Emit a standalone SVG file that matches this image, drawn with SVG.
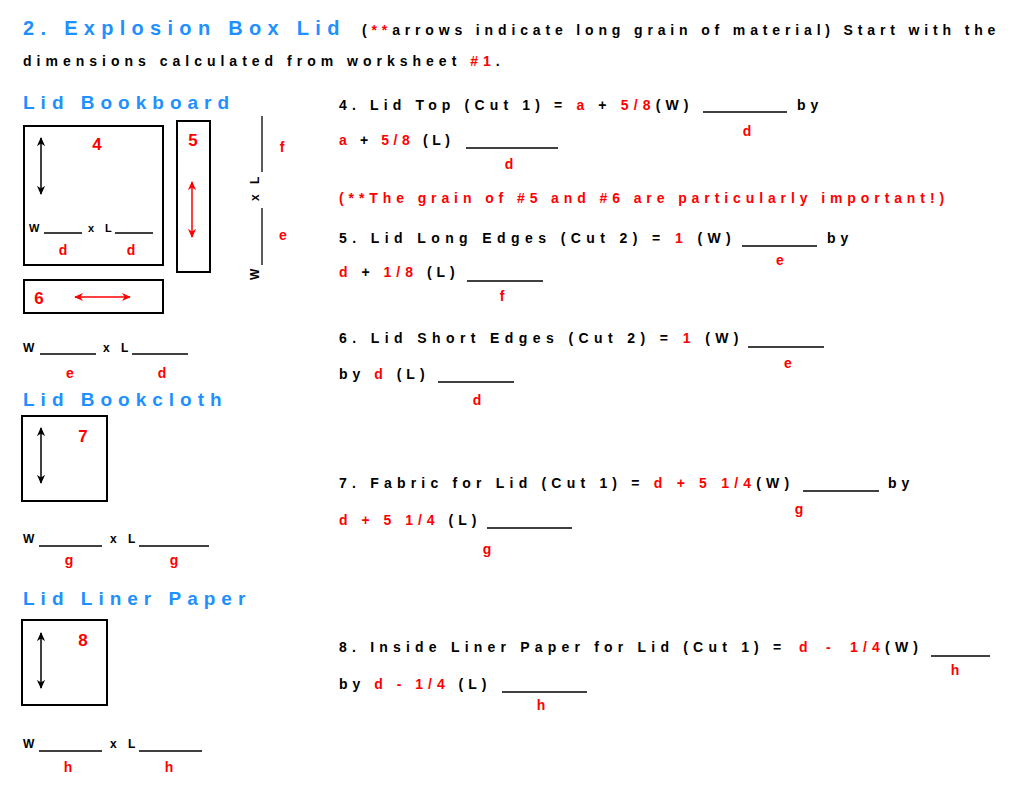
<svg xmlns="http://www.w3.org/2000/svg" width="1024" height="791" viewBox="0 0 1024 791">
<style>
text{font-family:"Liberation Sans",Arial,sans-serif;font-weight:bold;}
.t{font-size:14px;letter-spacing:5px;fill:#000;}
.r{fill:#ff0000;}
.h{font-size:19px;letter-spacing:6px;fill:#1e90ff;}
.lb{font-size:14px;fill:#ff0000;text-anchor:middle;}
.num{font-size:17px;fill:#ff0000;text-anchor:middle;}
.s{font-size:12px;fill:#000;}
.s2{font-size:11px;fill:#000;}
.u{stroke:#000;stroke-width:1.3;}
.box{fill:none;stroke:#000;stroke-width:2;}
.ab{stroke:#000;stroke-width:1.5;fill:none;marker-start:url(#hb);marker-end:url(#hb);}
.ar{stroke:#ff0000;stroke-width:1.5;fill:none;marker-start:url(#hr);marker-end:url(#hr);}
</style>
<defs>
<marker id="hb" viewBox="0 0 10 10" refX="9" refY="5" markerWidth="9" markerHeight="9" markerUnits="userSpaceOnUse" orient="auto-start-reverse"><path d="M0,0.5 L10,5 L0,9.5 L3,5 Z" fill="#000"/></marker>
<marker id="hr" viewBox="0 0 10 10" refX="9" refY="5" markerWidth="9" markerHeight="9" markerUnits="userSpaceOnUse" orient="auto-start-reverse"><path d="M0,0.5 L10,5 L0,9.5 L3,5 Z" fill="#ff0000"/></marker>
</defs>
<rect width="1024" height="791" fill="#fff"/>

<g id="title">
<text x="23" y="35" style="font-size:20px;letter-spacing:6.3px;fill:#1e90ff">2. Explosion Box Lid</text>
<text class="t" x="362" y="35" style="letter-spacing:4.85px">(<tspan class="r">**</tspan>arrows indicate long grain of material) Start with the</text>
<text class="t" x="23" y="66">dimensions calculated from worksheet <tspan class="r">#1</tspan>.</text>
</g>

<g id="bookboard">
<text class="h" x="23" y="109">Lid Bookboard</text>
<g id="piece4">
<rect class="box" x="24" y="126" width="139" height="139"/>
<text class="num" x="97" y="150">4</text>
<text class="s2" x="29" y="232">W</text>
<line class="u" x1="44" y1="233" x2="82" y2="233"/>
<text class="s2" x="88" y="232">x</text>
<text class="s2" x="105" y="232">L</text>
<line class="u" x1="115" y1="233" x2="153" y2="233"/>
<text class="lb" x="63" y="255">d</text>
<text class="lb" x="131" y="255">d</text>
</g>
<g id="piece5">
<rect class="box" x="177" y="121" width="33" height="151"/>
<text class="num" x="193" y="146">5</text>
</g>
<g id="piece6">
<rect class="box" x="24" y="280" width="139" height="33"/>
<text class="num" x="39" y="304">6</text>
</g>
<g id="dims5">
<text class="s" transform="translate(259,280) rotate(-90)">W</text>
<line class="u" x1="262" y1="208" x2="262" y2="265"/>
<text class="s" transform="translate(259,201) rotate(-90)">x</text>
<text class="s" transform="translate(259,184) rotate(-90)">L</text>
<line class="u" x1="262" y1="116" x2="262" y2="172"/>
<text class="lb" x="282" y="152">f</text>
<text class="lb" x="283" y="240">e</text>
</g>
<g id="dims6">
<text class="s" x="23" y="352">W</text>
<line class="u" x1="40" y1="354" x2="96" y2="354"/>
<text class="s" x="103" y="352">x</text>
<text class="s" x="121" y="352">L</text>
<line class="u" x1="132" y1="354" x2="188" y2="354"/>
<text class="lb" x="70" y="378">e</text>
<text class="lb" x="162" y="378">d</text>
</g>
</g>

<g id="bookcloth">
<text class="h" x="23" y="406">Lid Bookcloth</text>
<g id="piece7">
<rect class="box" x="22" y="416" width="85" height="85"/>
<text class="num" x="83" y="442">7</text>
</g>
<text class="s" x="23" y="543">W</text>
<line class="u" x1="39" y1="546" x2="102" y2="546"/>
<text class="s" x="110" y="543">x</text>
<text class="s" x="128" y="543">L</text>
<line class="u" x1="139" y1="546" x2="209" y2="546"/>
<text class="lb" x="69" y="565">g</text>
<text class="lb" x="174" y="565">g</text>
</g>

<g id="liner">
<text class="h" x="23" y="605">Lid Liner Paper</text>
<g id="piece8">
<rect class="box" x="22" y="620" width="85" height="85"/>
<text class="num" x="83" y="646">8</text>
</g>
<text class="s" x="23" y="748">W</text>
<line class="u" x1="39" y1="751" x2="102" y2="751"/>
<text class="s" x="110" y="748">x</text>
<text class="s" x="128" y="748">L</text>
<line class="u" x1="139" y1="751" x2="202" y2="751"/>
<text class="lb" x="68" y="772">h</text>
<text class="lb" x="169" y="772">h</text>
</g>

<g id="connectors">
<line class="ab" x1="41" y1="138" x2="41" y2="194"/>
<line class="ar" x1="192" y1="182" x2="192" y2="237"/>
<line class="ar" x1="75" y1="297" x2="130" y2="297"/>
<line class="ab" x1="41" y1="428" x2="41" y2="483"/>
<line class="ab" x1="41" y1="633" x2="41" y2="688"/>
</g>

<g id="instructions">
<text class="t" x="339" y="110" style="letter-spacing:5.15px">4. Lid Top (Cut 1) = <tspan class="r">a</tspan> + <tspan class="r">5/8</tspan>(W)</text>
<line class="u" x1="703" y1="112" x2="787" y2="112"/>
<text class="t" x="797" y="110">by</text>
<text class="lb" x="747" y="136">d</text>
<text class="t" x="339" y="145" style="letter-spacing:4.6px"><tspan class="r">a</tspan> + <tspan class="r">5/8</tspan> (L)</text>
<line class="u" x1="466" y1="148" x2="558" y2="148"/>
<text class="lb" x="509" y="169">d</text>

<text class="t r" x="339" y="203" style="letter-spacing:4.9px">(**The grain of #5 and #6 are particularly important!)</text>

<text class="t" x="339" y="243" style="letter-spacing:5.4px">5. Lid Long Edges (Cut 2) = <tspan class="r">1</tspan> (W)</text>
<line class="u" x1="742" y1="246" x2="817" y2="246"/>
<text class="t" x="827" y="243">by</text>
<text class="lb" x="780" y="265">e</text>
<text class="t" x="339" y="277"><tspan class="r">d</tspan> + <tspan class="r">1/8</tspan> (L)</text>
<line class="u" x1="467" y1="281" x2="543" y2="281"/>
<text class="lb" x="502" y="301">f</text>

<text class="t" x="339" y="343" style="letter-spacing:5.4px">6. Lid Short Edges (Cut 2) = <tspan class="r">1</tspan> (W)</text>
<line class="u" x1="748" y1="347" x2="824" y2="347"/>
<text class="lb" x="788" y="368">e</text>
<text class="t" x="339" y="379">by <tspan class="r">d</tspan> (L)</text>
<line class="u" x1="438" y1="382" x2="514" y2="382"/>
<text class="lb" x="477" y="405">d</text>

<text class="t" x="339" y="488" style="letter-spacing:5.2px">7. Fabric for Lid (Cut 1) = <tspan class="r">d + 5 1/4</tspan>(W)</text>
<line class="u" x1="803" y1="491" x2="879" y2="491"/>
<text class="t" x="888" y="488">by</text>
<text class="lb" x="799" y="514">g</text>
<text class="t" x="339" y="525"><tspan class="r">d + 5 1/4</tspan> (L)</text>
<line class="u" x1="487" y1="528" x2="572" y2="528"/>
<text class="lb" x="487" y="554">g</text>

<text class="t" x="339" y="652" style="letter-spacing:5.2px">8. Inside Liner Paper for Lid (Cut 1) =<tspan class="r" x="799">d</tspan><tspan class="r" x="826">-</tspan><tspan class="r" x="850">1/4</tspan>(W)</text>
<line class="u" x1="931" y1="656" x2="990" y2="656"/>
<text class="lb" x="955" y="675">h</text>
<text class="t" x="339" y="689">by <tspan class="r">d - 1/4</tspan> (L)</text>
<line class="u" x1="502" y1="692" x2="587" y2="692"/>
<text class="lb" x="541" y="710">h</text>
</g>
</svg>
